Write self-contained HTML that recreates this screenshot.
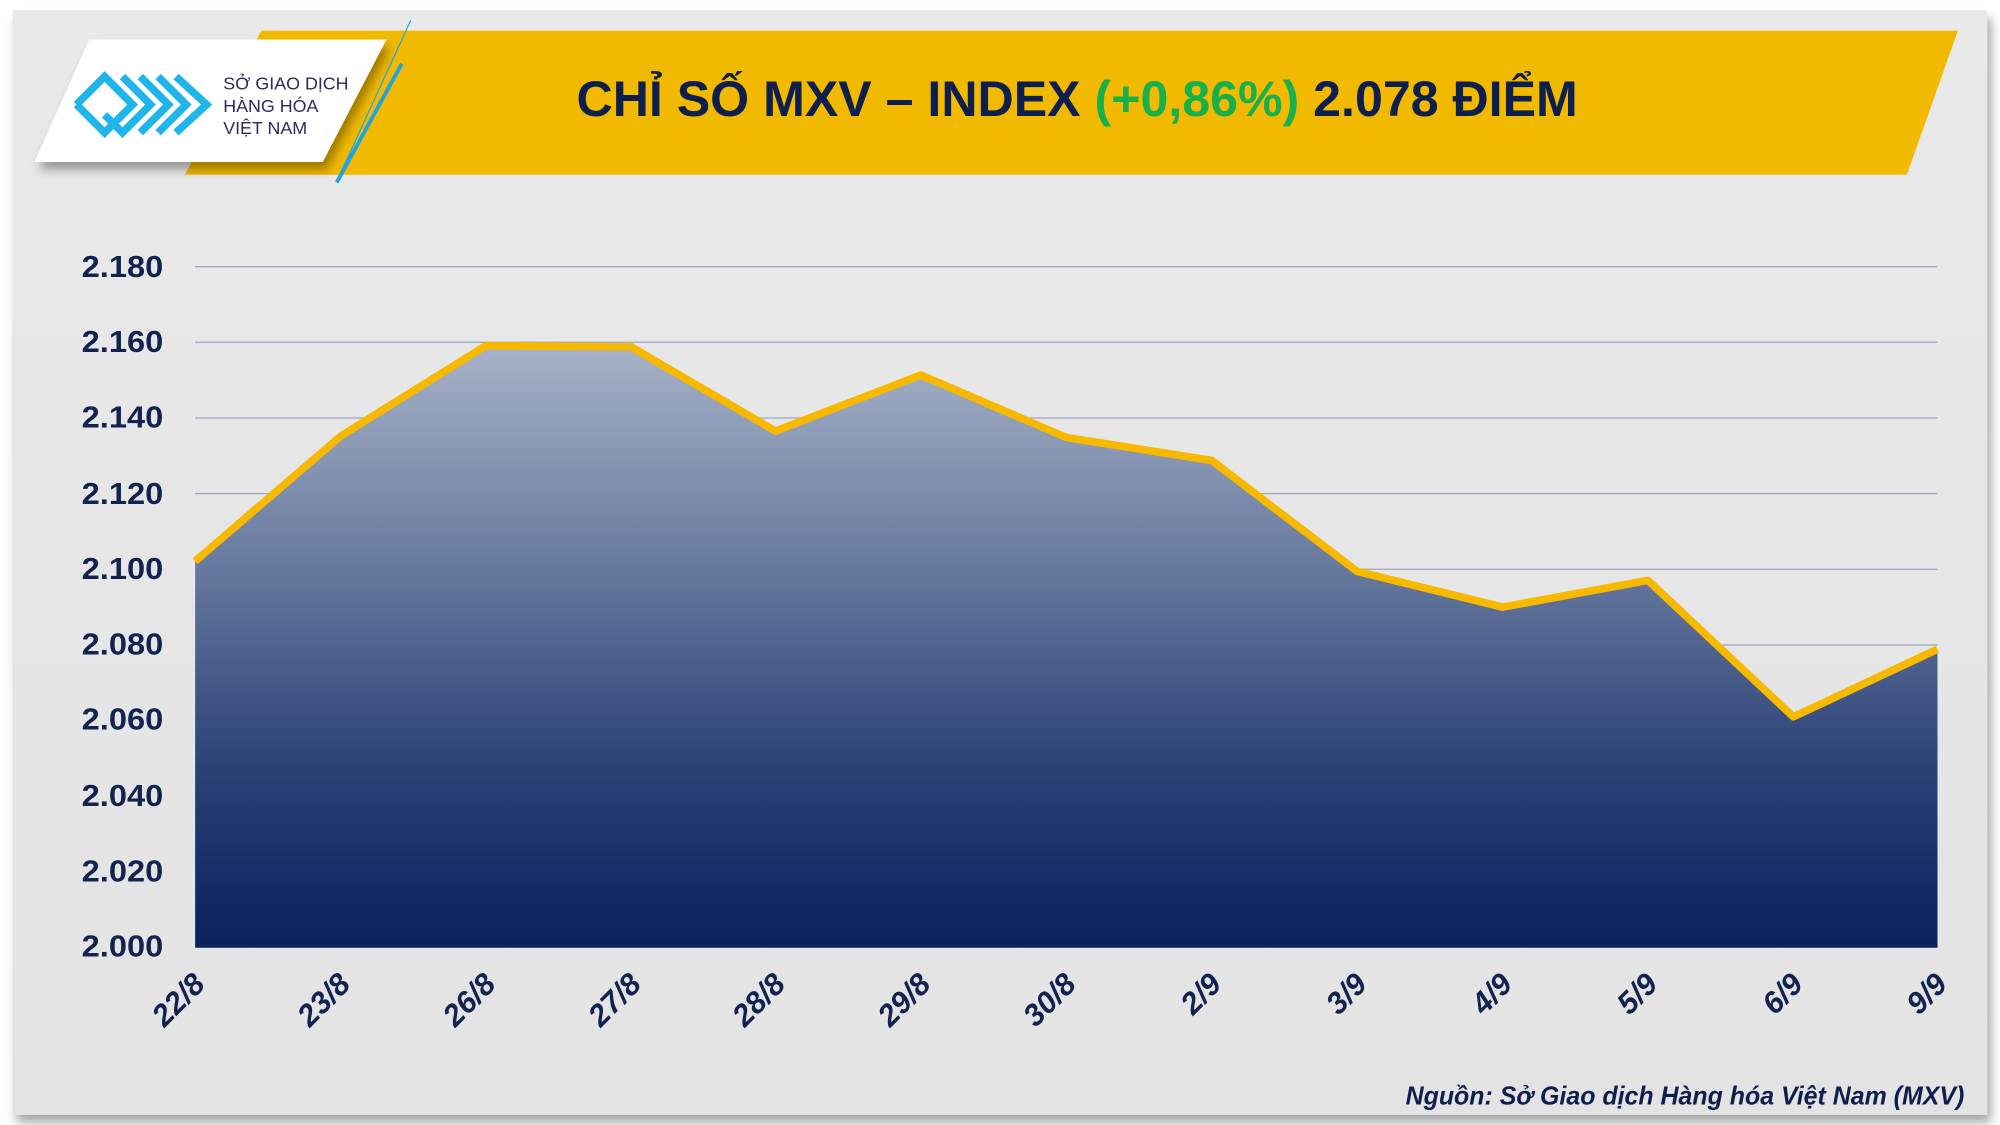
<!DOCTYPE html>
<html><head><meta charset="utf-8"><style>
html,body{margin:0;padding:0;background:#fff;}
svg{display:block;}
</style></head><body>
<svg width="2000" height="1125" viewBox="0 0 1568 882" xmlns="http://www.w3.org/2000/svg">
<defs>
<linearGradient id="bg" x1="0" y1="0" x2="0" y2="1">
<stop offset="0" stop-color="#e9e9e9"/><stop offset="1" stop-color="#e3e3e3"/>
</linearGradient>
<linearGradient id="area" x1="0" y1="271" x2="0" y2="743" gradientUnits="userSpaceOnUse">
<stop offset="0" stop-color="#a7b2c8"/><stop offset="0.35" stop-color="#6a7ca0"/><stop offset="0.7" stop-color="#2c4277"/><stop offset="1" stop-color="#0b1f5c"/>
</linearGradient>
<filter id="sh" x="-10%" y="-10%" width="130%" height="140%"><feDropShadow dx="3" dy="6" stdDeviation="4" flood-color="#000" flood-opacity="0.35"/></filter>
</defs>
<rect x="0" y="0" width="1568" height="882" fill="#fff"/>
<rect x="10" y="8" width="1548" height="866" fill="url(#bg)" filter="url(#sh)"/>
<polygon points="205,24 1535,24 1495,137 145,137" fill="#f1b900"/>
<line x1="322" y1="16" x2="265" y2="140" stroke="#29a8e0" stroke-width="1"/>
<line x1="315" y1="50" x2="264" y2="143" stroke="#1ea4e4" stroke-width="3"/>
<polygon points="70,31 303,31 253,127 27,127" fill="#fff" filter="url(#sh)"/>
<g fill="none" stroke="#20b5ea" stroke-width="6">
<path d="M60,82 L82,60 L96,74 M60,82 L82,104 L104,82 L90,68"/>
<path d="M96,60 L118,82 L96,104 L82,90"/>
<path d="M110,60 L132,82 L110,104"/>
<path d="M124,60 L146,82 L124,104"/>
<path d="M138,60 L162,82 L138,104"/>
</g>
<text x="175" y="70" font-family="Liberation Sans, sans-serif" font-size="14" fill="#2d2a5c">SỞ GIAO DỊCH</text>
<text x="175" y="88" font-family="Liberation Sans, sans-serif" font-size="14" fill="#2d2a5c">HÀNG HÓA</text>
<text x="175" y="105" font-family="Liberation Sans, sans-serif" font-size="14" fill="#2d2a5c">VIỆT NAM</text>
<text x="452" y="91" textLength="785" lengthAdjust="spacingAndGlyphs" font-family="Liberation Sans, sans-serif" font-weight="bold" font-size="39" fill="#0f1f4d">CHỈ SỐ MXV – INDEX <tspan fill="#17b04a">(+0,86%)</tspan> 2.078 ĐIỂM</text>
<g stroke="#9aa6bf" stroke-width="1">
<line x1="153" y1="209" x2="1519" y2="209"/><line x1="153" y1="268.3" x2="1519" y2="268.3"/>
<line x1="153" y1="327.7" x2="1519" y2="327.7"/><line x1="153" y1="387" x2="1519" y2="387"/>
<line x1="153" y1="446.3" x2="1519" y2="446.3"/><line x1="153" y1="505.7" x2="1519" y2="505.7"/>
<line x1="153" y1="565" x2="1519" y2="565"/><line x1="153" y1="624.3" x2="1519" y2="624.3"/>
<line x1="153" y1="683.7" x2="1519" y2="683.7"/>
</g>
<polygon points="153,440 267,342 381,271 495,272 608,338 722,294 836,343 950,361 1064,448 1178,476 1292,455 1406,562 1519,509 1519,743 153,743" fill="url(#area)"/>
<polyline points="153,440 267,342 381,271 495,272 608,338 722,294 836,343 950,361 1064,448 1178,476 1292,455 1406,562 1519,509" fill="none" stroke="#f6b900" stroke-width="6" stroke-linejoin="round"/>
<g font-family="Liberation Sans, sans-serif" font-weight="bold" font-size="24" fill="#13234f" text-anchor="end">
<text x="128" y="217" textLength="64" lengthAdjust="spacingAndGlyphs">2.180</text><text x="128" y="276" textLength="64" lengthAdjust="spacingAndGlyphs">2.160</text><text x="128" y="335" textLength="64" lengthAdjust="spacingAndGlyphs">2.140</text>
<text x="128" y="395" textLength="64" lengthAdjust="spacingAndGlyphs">2.120</text><text x="128" y="454" textLength="64" lengthAdjust="spacingAndGlyphs">2.100</text><text x="128" y="513" textLength="64" lengthAdjust="spacingAndGlyphs">2.080</text>
<text x="128" y="572" textLength="64" lengthAdjust="spacingAndGlyphs">2.060</text><text x="128" y="632" textLength="64" lengthAdjust="spacingAndGlyphs">2.040</text><text x="128" y="691" textLength="64" lengthAdjust="spacingAndGlyphs">2.020</text>
<text x="128" y="750" textLength="64" lengthAdjust="spacingAndGlyphs">2.000</text>
</g>
<g font-family="Liberation Sans, sans-serif" font-weight="bold" font-style="italic" font-size="24" fill="#13234f" text-anchor="end">
<text transform="translate(162,773) rotate(-45)">22/8</text>
<text transform="translate(276,773) rotate(-45)">23/8</text>
<text transform="translate(390,773) rotate(-45)">26/8</text>
<text transform="translate(504,773) rotate(-45)">27/8</text>
<text transform="translate(617,773) rotate(-45)">28/8</text>
<text transform="translate(731,773) rotate(-45)">29/8</text>
<text transform="translate(845,773) rotate(-45)">30/8</text>
<text transform="translate(959,773) rotate(-45)">2/9</text>
<text transform="translate(1073,773) rotate(-45)">3/9</text>
<text transform="translate(1187,773) rotate(-45)">4/9</text>
<text transform="translate(1301,773) rotate(-45)">5/9</text>
<text transform="translate(1415,773) rotate(-45)">6/9</text>
<text transform="translate(1528,773) rotate(-45)">9/9</text>
</g>
<text x="1540" y="866" text-anchor="end" textLength="438" lengthAdjust="spacingAndGlyphs" font-family="Liberation Sans, sans-serif" font-weight="bold" font-style="italic" font-size="20" fill="#0f1f4d">Nguồn: Sở Giao dịch Hàng hóa Việt Nam (MXV)</text>
</svg>
</body></html>
